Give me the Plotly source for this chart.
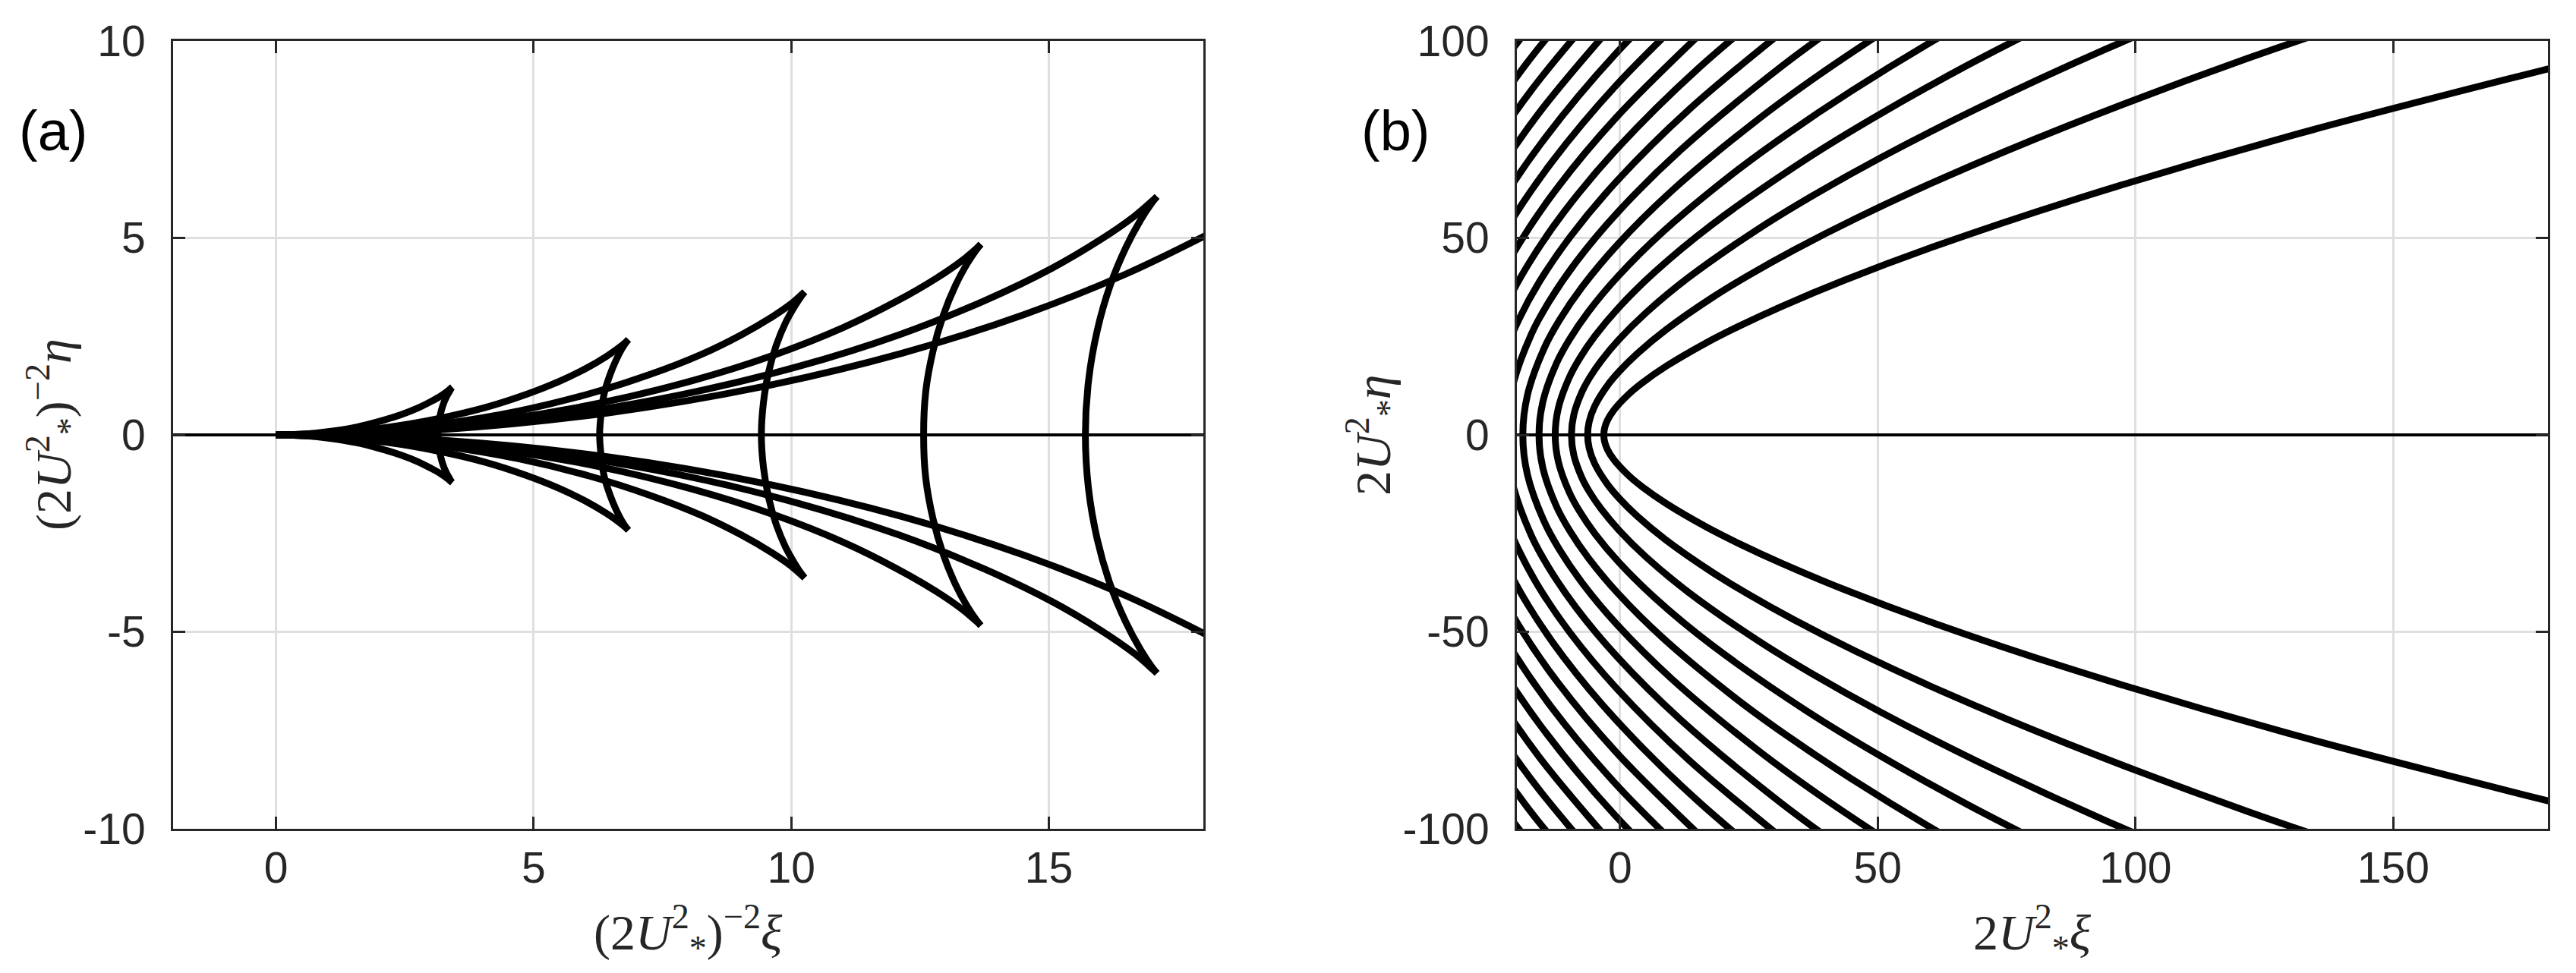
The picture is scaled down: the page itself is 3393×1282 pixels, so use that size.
"""Wave crest patterns: (a) gravity (Kelvin) crests, (b) capillary crests."""
import plotly.graph_objects as go

# ---------------- panel (a): crest lines ----------------
# each crest = upper divergent branch, lower divergent branch, transverse arc
A1_DIV_XI = [0, 0.55, 1.07, 1.57, 2.02, 2.42, 2.75, 3.01, 3.20, 3.33, 3.40, 3.42]
A1_DIV_ETA_UP = [0, 0.02, 0.09, 0.20, 0.35, 0.51, 0.68, 0.85, 0.99, 1.11, 1.19, 1.21]
A1_DIV_ETA_DN = [0, -0.02, -0.09, -0.20, -0.35, -0.51, -0.68, -0.85, -0.99, -1.11, -1.19, -1.21]
A1_TR_XI = [3.42, 3.40, 3.36, 3.30, 3.24, 3.19, 3.15, 3.14, 3.15, 3.19, 3.24, 3.30, 3.36, 3.40, 3.42]
A1_TR_ETA = [1.21, 1.18, 1.09, 0.95, 0.76, 0.53, 0.27, 0, -0.27, -0.53, -0.76, -0.95, -1.09, -1.18, -1.21]

A2_DIV_XI = [0, 1.09, 2.15, 3.14, 4.05, 4.84, 5.50, 6.02, 6.41, 6.66, 6.80, 6.84]
A2_DIV_ETA_UP = [0, 0.05, 0.19, 0.41, 0.69, 1.02, 1.36, 1.69, 1.99, 2.22, 2.37, 2.42]
A2_DIV_ETA_DN = [0, -0.05, -0.19, -0.41, -0.69, -1.02, -1.36, -1.69, -1.99, -2.22, -2.37, -2.42]
A2_TR_XI = [6.84, 6.80, 6.71, 6.60, 6.48, 6.37, 6.31, 6.28, 6.31, 6.37, 6.48, 6.60, 6.71, 6.80, 6.84]
A2_TR_ETA = [2.42, 2.36, 2.18, 1.90, 1.52, 1.06, 0.54, 0, -0.54, -1.06, -1.52, -1.90, -2.18, -2.36, -2.42]

A3_DIV_XI = [0, 1.64, 3.22, 4.72, 6.07, 7.25, 8.25, 9.03, 9.61, 10.00, 10.20, 10.26]
A3_DIV_ETA_UP = [0, 0.07, 0.28, 0.61, 1.04, 1.53, 2.04, 2.54, 2.98, 3.33, 3.56, 3.63]
A3_DIV_ETA_DN = [0, -0.07, -0.28, -0.61, -1.04, -1.53, -2.04, -2.54, -2.98, -3.33, -3.56, -3.63]
A3_TR_XI = [10.26, 10.20, 10.07, 9.89, 9.71, 9.56, 9.46, 9.42, 9.46, 9.56, 9.71, 9.89, 10.07, 10.20, 10.26]
A3_TR_ETA = [3.63, 3.53, 3.27, 2.85, 2.28, 1.59, 0.82, 0, -0.82, -1.59, -2.28, -2.85, -3.27, -3.53, -3.63]

A4_DIV_XI = [0, 2.18, 4.30, 6.29, 8.09, 9.67, 11.00, 12.04, 12.82, 13.33, 13.60, 13.68]
A4_DIV_ETA_UP = [0, 0.10, 0.37, 0.81, 1.38, 2.03, 2.72, 3.39, 3.98, 4.44, 4.74, 4.84]
A4_DIV_ETA_DN = [0, -0.10, -0.37, -0.81, -1.38, -2.03, -2.72, -3.39, -3.98, -4.44, -4.74, -4.84]
A4_TR_XI = [13.68, 13.60, 13.42, 13.19, 12.95, 12.75, 12.61, 12.57, 12.61, 12.75, 12.95, 13.19, 13.42, 13.60, 13.68]
A4_TR_ETA = [4.84, 4.71, 4.36, 3.80, 3.03, 2.12, 1.09, 0, -1.09, -2.12, -3.03, -3.80, -4.36, -4.71, -4.84]

A5_DIV_XI = [0, 2.73, 5.37, 7.86, 10.12, 12.09, 13.74, 15.06, 16.02, 16.66, 17.00, 17.10]
A5_DIV_ETA_UP = [0, 0.12, 0.47, 1.02, 1.73, 2.54, 3.40, 4.23, 4.97, 5.55, 5.93, 6.05]
A5_DIV_ETA_DN = [0, -0.12, -0.47, -1.02, -1.73, -2.54, -3.40, -4.23, -4.97, -5.55, -5.93, -6.05]
A5_TR_XI = [17.10, 17.00, 16.78, 16.49, 16.19, 15.94, 15.77, 15.71, 15.77, 15.94, 16.19, 16.49, 16.78, 17.00, 17.10]
A5_TR_ETA = [6.05, 5.89, 5.45, 4.74, 3.79, 2.65, 1.36, 0, -1.36, -2.65, -3.79, -4.74, -5.45, -5.89, -6.05]

# sixth crest: only the divergent branches reach into the frame
A6_DIV_XI = [0, 3.27, 6.45, 9.43, 12.14, 14.51, 16.49, 18.07]
A6_DIV_ETA_UP = [0, 0.14, 0.56, 1.22, 2.07, 3.05, 4.08, 5.08]
A6_DIV_ETA_DN = [0, -0.14, -0.56, -1.22, -2.07, -3.05, -4.08, -5.08]

# ---------------- panel (b): capillary crests ----------------
B1_XI = [199.73, 129.49, 87.48, 60.94, 43.41, 31.42, 22.97, 16.87, 9.00, 4.44, 1.67, -1.21, -2.46, -2.99, -3.14,
         -2.99, -2.46, -1.21, 1.67, 4.44, 9.00, 16.87, 22.97, 31.42, 43.41, 60.94, 87.48, 129.49, 199.73]
B1_ETA = [-99.40, -75.71, -59.45, -47.82, -39.21, -32.65, -27.53, -23.47, -17.47, -13.33, -10.32, -6.28, -3.65, -1.69, 0,
          1.69, 3.65, 6.28, 10.32, 13.33, 17.47, 23.47, 27.53, 32.65, 39.21, 47.82, 59.45, 75.71, 99.40]
B2_XI = [174.97, 121.88, 86.82, 62.83, 45.93, 33.73, 24.74, 17.99, 8.89, 3.35, -0.15, -2.42, -4.91, -5.98, -6.28,
         -5.98, -4.91, -2.42, -0.15, 3.35, 8.89, 17.99, 24.74, 33.73, 45.93, 62.83, 86.82, 121.88, 174.97]
B2_ETA = [-118.91, -95.65, -78.42, -65.30, -55.07, -46.93, -40.35, -34.95, -26.66, -20.65, -16.11, -12.57, -7.30, -3.37, 0,
          3.37, 7.30, 12.57, 16.11, 20.65, 26.66, 34.95, 40.35, 46.93, 55.07, 65.30, 78.42, 95.65, 118.91]
B3_XI = [130.23, 94.25, 68.90, 50.60, 37.11, 26.99, 13.33, 5.02, -0.22, -3.63, -5.88, -7.37, -8.97, -9.42,
         -8.97, -7.37, -5.88, -3.63, -0.22, 5.02, 13.33, 26.99, 37.11, 50.60, 68.90, 94.25, 130.23]
B3_ETA = [-117.63, -97.94, -82.60, -70.40, -60.53, -52.42, -39.99, -30.97, -24.17, -18.85, -14.55, -10.95, -5.06, 0,
          5.06, 10.95, 14.55, 18.85, 24.17, 30.97, 39.99, 52.42, 60.53, 70.40, 82.60, 97.94, 117.63]
B4_XI = [91.87, 67.46, 49.48, 35.98, 17.77, 6.70, -0.30, -4.84, -7.84, -9.83, -11.97, -12.57,
         -11.97, -9.83, -7.84, -4.84, -0.30, 6.70, 17.77, 35.98, 49.48, 67.46, 91.87]
B4_ETA = [-110.14, -93.87, -80.71, -69.89, -53.31, -41.30, -32.23, -25.13, -19.40, -14.60, -6.75, 0,
          6.75, 14.60, 19.40, 25.13, 32.23, 41.30, 53.31, 69.89, 80.71, 93.87, 110.14]
B5_XI = [84.33, 61.85, 44.98, 32.13, 22.21, 8.37, -0.37, -6.05, -9.79, -12.29, -14.96, -15.71,
         -14.96, -12.29, -9.79, -6.05, -0.37, 8.37, 22.21, 32.13, 44.98, 61.85, 84.33]
B5_ETA = [-117.33, -100.88, -87.37, -76.12, -66.64, -51.62, -40.28, -31.42, -24.25, -18.25, -8.44, 0,
          8.44, 18.25, 24.25, 31.42, 40.28, 51.62, 66.64, 76.12, 87.37, 100.88, 117.33]
B6_XI = [53.97, 38.56, 26.66, 10.04, -0.45, -7.26, -11.75, -14.74, -17.95, -18.85,
         -17.95, -14.74, -11.75, -7.26, -0.45, 10.04, 26.66, 38.56, 53.97]
B6_ETA = [-104.84, -91.35, -79.97, -61.94, -48.34, -37.70, -29.10, -21.90, -10.12, 0,
          10.12, 21.90, 29.10, 37.70, 48.34, 61.94, 79.97, 91.35, 104.84]
B7_XI = [44.98, 31.10, 11.72, -0.52, -8.46, -13.71, -17.20, -20.94, -21.99,
         -20.94, -17.20, -13.71, -8.46, -0.52, 11.72, 31.10, 44.98]
B7_ETA = [-106.57, -93.30, -72.27, -56.39, -43.98, -33.94, -25.55, -11.81, 0,
          11.81, 25.55, 33.94, 43.98, 56.39, 72.27, 93.30, 106.57]
B8_XI = [35.54, 13.39, -0.60, -9.67, -15.67, -19.66, -22.28, -23.93, -25.13,
         -23.93, -22.28, -19.66, -15.67, -9.67, -0.60, 13.39, 35.54]
B8_ETA = [-106.63, -82.59, -64.45, -50.27, -38.79, -29.20, -20.92, -13.50, 0,
          13.50, 20.92, 29.20, 38.79, 50.27, 64.45, 82.59, 106.63]
B9_XI = [39.99, 15.07, -0.67, -10.88, -17.63, -22.12, -26.92, -28.27,
         -26.92, -22.12, -17.63, -10.88, -0.67, 15.07, 39.99]
B9_ETA = [-119.96, -92.91, -72.51, -56.55, -43.64, -32.85, -15.19, 0,
          15.19, 32.85, 43.64, 56.55, 72.51, 92.91, 119.96]
B10_XI = [16.74, -0.74, -12.09, -19.59, -24.57, -29.92, -31.42, -29.92, -24.57, -19.59, -12.09, -0.74, 16.74]
B10_ETA = [-103.24, -80.56, -62.83, -48.49, -36.51, -16.87, 0, 16.87, 36.51, 48.49, 62.83, 80.56, 103.24]
B11_XI = [18.41, -0.82, -13.30, -21.55, -27.03, -32.91, -34.56, -32.91, -27.03, -21.55, -13.30, -0.82, 18.41]
B11_ETA = [-113.56, -88.62, -69.12, -53.34, -40.16, -18.56, 0, 18.56, 40.16, 53.34, 69.12, 88.62, 113.56]
B12_XI = [20.09, -0.89, -14.51, -23.51, -29.49, -35.90, -37.70, -35.90, -29.49, -23.51, -14.51, -0.89, 20.09]
B12_ETA = [-123.88, -96.68, -75.40, -58.19, -43.81, -20.25, 0, 20.25, 43.81, 58.19, 75.40, 96.68, 123.88]
B13_XI = [-0.97, -15.72, -25.46, -31.95, -38.89, -40.84, -38.89, -31.95, -25.46, -15.72, -0.97]
B13_ETA = [-104.73, -81.68, -63.04, -47.46, -21.94, 0, 21.94, 47.46, 63.04, 81.68, 104.73]
B14_XI = [-1.04, -16.93, -27.42, -34.40, -41.88, -43.98, -41.88, -34.40, -27.42, -16.93, -1.04]
B14_ETA = [-112.79, -87.96, -67.89, -51.11, -23.62, 0, 23.62, 51.11, 67.89, 87.96, 112.79]
B15_XI = [-1.12, -18.14, -29.38, -36.86, -44.87, -47.12, -44.87, -36.86, -29.38, -18.14, -1.12]
B15_ETA = [-120.85, -94.25, -72.74, -54.76, -25.31, 0, 25.31, 54.76, 72.74, 94.25, 120.85]
B16_XI = [-1.19, -19.35, -31.34, -39.32, -47.87, -50.27, -47.87, -39.32, -31.34, -19.35, -1.19]
B16_ETA = [-128.90, -100.53, -77.59, -58.41, -27.00, 0, 27.00, 58.41, 77.59, 100.53, 128.90]

TICKS_A_X = [0, 5, 10, 15]
TICKS_A_Y = [-10, -5, 0, 5, 10]
TICKS_B_X = [0, 50, 100, 150]
TICKS_B_Y = [-100, -50, 0, 50, 100]

CURVES_A = [
    (A1_DIV_XI, A1_DIV_ETA_UP), (A1_DIV_XI, A1_DIV_ETA_DN), (A1_TR_XI, A1_TR_ETA),
    (A2_DIV_XI, A2_DIV_ETA_UP), (A2_DIV_XI, A2_DIV_ETA_DN), (A2_TR_XI, A2_TR_ETA),
    (A3_DIV_XI, A3_DIV_ETA_UP), (A3_DIV_XI, A3_DIV_ETA_DN), (A3_TR_XI, A3_TR_ETA),
    (A4_DIV_XI, A4_DIV_ETA_UP), (A4_DIV_XI, A4_DIV_ETA_DN), (A4_TR_XI, A4_TR_ETA),
    (A5_DIV_XI, A5_DIV_ETA_UP), (A5_DIV_XI, A5_DIV_ETA_DN), (A5_TR_XI, A5_TR_ETA),
    (A6_DIV_XI, A6_DIV_ETA_UP), (A6_DIV_XI, A6_DIV_ETA_DN),
]
CURVES_B = [
    (B1_XI, B1_ETA), (B2_XI, B2_ETA), (B3_XI, B3_ETA), (B4_XI, B4_ETA),
    (B5_XI, B5_ETA), (B6_XI, B6_ETA), (B7_XI, B7_ETA), (B8_XI, B8_ETA),
    (B9_XI, B9_ETA), (B10_XI, B10_ETA), (B11_XI, B11_ETA), (B12_XI, B12_ETA),
    (B13_XI, B13_ETA), (B14_XI, B14_ETA), (B15_XI, B15_ETA), (B16_XI, B16_ETA),
]

INK = "#262626"
GRID = "#dfdfdf"
# the page body keeps its default 8px margin, so the figure is drawn 8px in
PAD = 8
W, H = 3393 - 2 * PAD, 1282 - 2 * PAD
TICK_FONT = dict(family="Liberation Sans, Arial, sans-serif", size=57, color=INK)
MATH_FONT = dict(family="Liberation Serif, Times New Roman, serif", size=66, color=INK)


def fx(px):
    return (px - PAD) / W


def fy(py):
    return 1 - (py - PAD) / H


fig = go.Figure()
for xs, ys in CURVES_A:
    fig.add_trace(go.Scatter(x=xs, y=ys, mode="lines", xaxis="x", yaxis="y",
                             line=dict(color="black", width=9, shape="spline"),
                             hoverinfo="skip", showlegend=False))
for xs, ys in CURVES_B:
    fig.add_trace(go.Scatter(x=xs, y=ys, mode="lines", xaxis="x2", yaxis="y2",
                             line=dict(color="black", width=9, shape="spline"),
                             hoverinfo="skip", showlegend=False))


def axis(rng, ticks, domain, anchor, is_y):
    d = dict(range=rng, domain=domain, anchor=anchor, tickvals=ticks,
             ticktext=[str(t) for t in ticks], tickfont=TICK_FONT, automargin=False,
             showline=True, linecolor=INK, linewidth=3, mirror="ticks",
             ticks="inside", ticklen=16, tickwidth=3, tickcolor=INK,
             showgrid=True, gridcolor=GRID, gridwidth=3, fixedrange=True)
    if is_y:
        d.update(zeroline=True, zerolinecolor="black", zerolinewidth=4, ticklabelstandoff=22)
    else:
        d.update(zeroline=False, ticklabelstandoff=0)
    return d


YDOM = [fy(1092), fy(54)]
fig.update_layout(
    width=W, height=H, margin=dict(l=0, r=0, t=0, b=0, autoexpand=False),
    paper_bgcolor="white", plot_bgcolor="white",
    xaxis=axis([-2, 18], TICKS_A_X, [fx(228), fx(1585)], "y", False),
    yaxis=axis([-10, 10], TICKS_A_Y, YDOM, "x", True),
    xaxis2=axis([-20, 180], TICKS_B_X, [fx(1998), fx(3356)], "y2", False),
    yaxis2=axis([-100, 100], TICKS_B_Y, YDOM, "x2", True),
)

labels = [
    ("(2<i>U</i><sup>2</sup><sub>*</sub>)<sup>−2</sup><i>ξ</i>", 906, 1228, 0),
    ("(2<i>U</i><sup>2</sup><sub>*</sub>)<sup>−2</sup><i>η</i>", 70, 573, -90),
    ("2<i>U</i><sup>2</sup><sub>*</sub><i>ξ</i>", 2677, 1228, 0),
    ("2<i>U</i><sup>2</sup><sub>*</sub><i>η</i>", 1808, 573, -90),
]
for text, px, py, ang in labels:
    fig.add_annotation(text=text, x=fx(px), y=fy(py), xref="paper", yref="paper",
                       showarrow=False, textangle=ang, font=MATH_FONT,
                       xanchor="center", yanchor="middle")
for text, px in [("(a)", 70), ("(b)", 1838)]:
    fig.add_annotation(text=text, x=fx(px), y=fy(173), xref="paper", yref="paper",
                       showarrow=False, font=dict(family="Liberation Sans, Arial, sans-serif",
                                                  size=74, color="black"),
                       xanchor="center", yanchor="middle")

fig.write_html("out.html")
